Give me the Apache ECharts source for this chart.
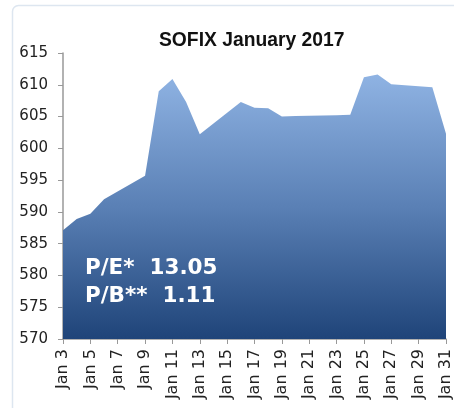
<!DOCTYPE html>
<html>
<head>
    <meta charset="utf-8">
    <title>SOFIX January 2017</title>
    <script src="https://cdn.jsdelivr.net/npm/echarts@6/dist/echarts.min.js"></script>
</head>
<body style="margin:0;background:#fff;">
<div id="main" style="width: 454px;height:408px;"></div>
<script type="text/javascript">
    // trading days of January 2017 and SOFIX closing values
    var days = [3, 4, 5, 6, 9, 10, 11, 12, 13, 16, 17, 18, 19, 20, 23, 24, 25, 26, 27, 30, 31];
    var sofix = [587.1, 588.9, 589.7, 592.0, 595.7, 609.0, 610.9, 607.3, 602.2, 607.3, 606.4,
                 606.3, 605.0, 605.1, 605.2, 605.3, 611.2, 611.6, 610.1, 609.6, 602.3];
    var notes = ['P/E*  13.05', 'P/B**  1.11'];

    var seriesData = [];
    for (var i = 0; i < days.length; i++) {
        seriesData.push([days[i], sofix[i]]);
    }

    var myChart = echarts.init(document.getElementById('main'));
    var font = 'DejaVu Sans, Verdana, sans-serif';

    var option = {
        animation: false,
        title: {
            text: 'SOFIX January 2017',
            left: 154,
            top: 26,
            textStyle: { fontFamily: 'Liberation Sans, Arial, sans-serif', fontSize: 19.3, fontWeight: 'bold', color: '#111' }
        },
        grid: { left: 63, right: 1, top: 53, bottom: 69 },
        xAxis: {
            type: 'value',
            min: 3,
            max: 31,
            interval: 2,
            splitLine: { show: false },
            axisLine: { lineStyle: { color: '#999', width: 1.5 } },
            axisTick: { length: 5, lineStyle: { color: '#999' } },
            axisLabel: {
                rotate: 90,
                margin: 10,
                fontFamily: font,
                fontSize: 16,
                color: '#222',
                formatter: function (v) { return 'Jan ' + v; }
            }
        },
        yAxis: {
            type: 'value',
            min: 570,
            max: 615,
            interval: 5,
            splitLine: { show: false },
            axisLine: { show: true, lineStyle: { color: '#999', width: 1.5 } },
            axisTick: { show: true, length: 5, lineStyle: { color: '#999' } },
            axisLabel: { margin: 15, fontFamily: font, fontSize: 15, color: '#222' }
        },
        graphic: [{
            type: 'rect',
            silent: true,
            shape: { x: 12.5, y: 5.5, width: 470, height: 430, r: 6 },
            style: { fill: null, stroke: '#dde6f0', lineWidth: 1.5 }
        }, {
            type: 'text',
            z: 100,
            x: 85,
            y: 257,
            style: { text: notes[0], fill: '#fff', font: 'bold 21.5px ' + font }
        }, {
            type: 'text',
            z: 100,
            x: 85,
            y: 285,
            style: { text: notes[1], fill: '#fff', font: 'bold 21.5px ' + font }
        }],
        series: [{
            type: 'line',
            data: seriesData,
            symbol: 'none',
            lineStyle: { width: 0 },
            areaStyle: {
                opacity: 1,
                color: new echarts.graphic.LinearGradient(0, 0, 0, 1, [
                    { offset: 0, color: '#8fb3e3' },
                    { offset: 0.5, color: '#5a80b5' },
                    { offset: 1, color: '#1f4479' }
                ])
            }
        }]
    };

    myChart.setOption(option);
</script>
</body>
</html>
